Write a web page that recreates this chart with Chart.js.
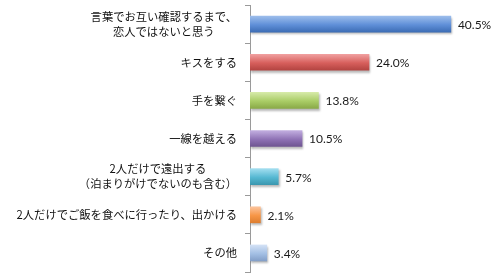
<!DOCTYPE html>
<html><head><meta charset="utf-8">
<script src="https://cdn.jsdelivr.net/npm/chart.js@4"></script>
<style>html,body{margin:0;padding:0;background:#fff}#wrap{width:500px;height:278px}</style>
</head><body><div id="wrap"><canvas id="c" width="500" height="278"></canvas></div>
<script>
const categories = [
  ["言葉でお互い確認するまで、", "恋人ではないと思う"],
  ["キスをする"],
  ["手を繋ぐ"],
  ["一線を越える"],
  ["2人だけで遠出する", "（泊まりがけでないのも含む）"],
  ["2人だけでご飯を食べに行ったり、出かける"],
  ["その他"]
];
const values = [40.5, 24.0, 13.8, 10.5, 5.7, 2.1, 3.4];
const valueLabels = ["40.5%", "24.0%", "13.8%", "10.5%", "5.7%", "2.1%", "3.4%"];
const barColors = [
  ["#9cbdeb", "#5f8fd8", "#3d6db5"],
  ["#f0a0a0", "#d75f5c", "#b34441"],
  ["#d6eaa8", "#a9cc66", "#8aaa48"],
  ["#c2aee0", "#8f72b5", "#6f5591"],
  ["#a2def0", "#55b8d2", "#3c98b0"],
  ["#fcc49c", "#f79646", "#dd7e30"],
  ["#d3e1f5", "#a3bfe4", "#839fc8"]
];

function grad(ctx) {
  const chart = ctx.chart;
  const y = chart.scales.y;
  const i = ctx.dataIndex;
  const c = barColors[i] || barColors[0];
  if (!y || y.top === undefined) return c[1];
  const cy = y.getPixelForValue(i);
  const g = chart.ctx.createLinearGradient(0, cy - 8, 0, cy + 8);
  g.addColorStop(0, c[0]);
  g.addColorStop(0.55, c[1]);
  g.addColorStop(1, c[2]);
  return g;
}

const labelPlugin = {
  id: 'labels',
  beforeDatasetsDraw(chart) {
    const ctx = chart.ctx;
    ctx.save();
    ctx.shadowColor = 'rgba(0,0,0,0.28)';
    ctx.shadowOffsetX = 1;
    ctx.shadowOffsetY = 2;
    ctx.shadowBlur = 2;
  },
  afterDatasetsDraw(chart) {
    const ctx = chart.ctx;
    ctx.restore();
    const y = chart.scales.y, x = chart.scales.x;
    ctx.save();
    ctx.font = '11.3px "Noto Sans CJK JP"';
    ctx.fillStyle = '#111';
    ctx.textAlign = 'center';
    ctx.textBaseline = 'middle';
    const rightEdge = y.right - 13;
    categories.forEach((lines, i) => {
      const cy = y.getPixelForValue(i);
      const w = Math.max(...lines.map(l => ctx.measureText(l).width));
      const cx = rightEdge - w / 2;
      const lh = 15;
      const start = cy - (lines.length - 1) * lh / 2;
      lines.forEach((l, k) => ctx.fillText(l, cx, start + k * lh));
    });
    ctx.font = '12px Lato';
    ctx.fillStyle = '#1a1a1a';
    ctx.textAlign = 'left';
    values.forEach((v, i) => {
      const cy = y.getPixelForValue(i);
      ctx.fillText(valueLabels[i], x.getPixelForValue(v) + 7, cy + 1);
    });
    ctx.restore();
  }
};

new Chart(document.getElementById('c'), {
  type: 'bar',
  data: {
    labels: categories,
    datasets: [{
      data: values,
      backgroundColor: grad,
      borderWidth: 0,
      barThickness: 16
    }]
  },
  options: {
    indexAxis: 'y',
    responsive: false,
    animation: false,
    events: [],
    layout: { padding: { top: 5, bottom: 6, right: 2, left: 0 } },
    plugins: { legend: { display: false }, tooltip: { enabled: false } },
    scales: {
      x: { display: false, min: 0, max: 50 },
      y: {
        afterFit(s) { s.width = 250; },
        ticks: { display: false },
        grid: { drawOnChartArea: false, drawTicks: true, tickLength: 5, color: '#9a9a9a', offset: true },
        border: { color: '#9a9a9a', width: 1 }
      }
    }
  },
  plugins: [labelPlugin]
});
</script>
</body></html>
